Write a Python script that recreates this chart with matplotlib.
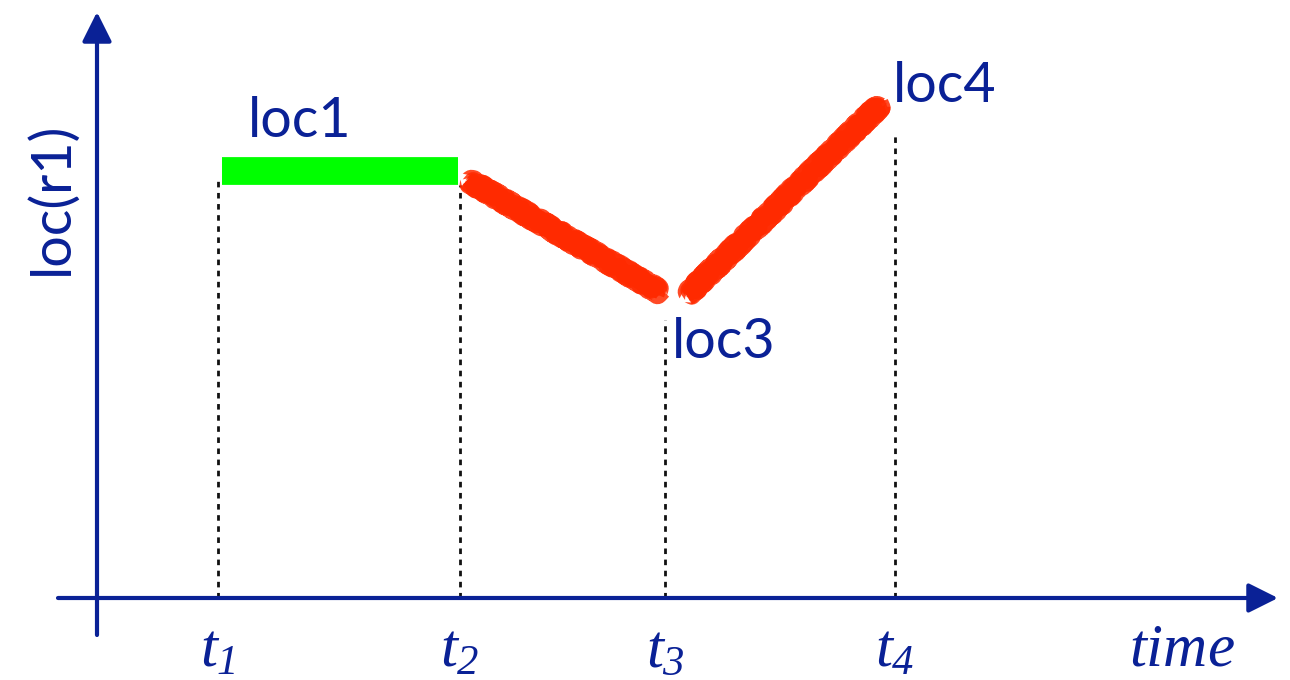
import matplotlib.pyplot as plt

navy = '#0a2196'

# time marks on the x axis and their labels
times = [1.21, 3.63, 5.68, 7.98]
time_labels = [r'$t_{1}$', r'$t_{2}$', r'$t_{3}$', r'$t_{4}$']
# top end of each dotted guide
guide_tops = [4.20, 4.13, 2.78, 4.66]

# robot r1 staying at loc1
stay_x = [1.25, 3.61]
stay_y = [4.27, 4.27]
# moving loc1 -> loc3 and loc3 -> loc4
move1_x = [3.71, 5.63]
move1_y = [4.18, 3.06]
move2_x = [5.90, 7.83]
move2_y = [3.03, 4.93]

# all math text here is italic serif, digits included
plt.rcParams['mathtext.fontset'] = 'custom'
plt.rcParams['mathtext.it'] = 'Liberation Serif:italic'
plt.rcParams['mathtext.rm'] = 'Liberation Serif:italic'

fig = plt.figure(figsize=(12.9, 6.8), dpi=100)
ax = fig.add_axes([0, 0, 1, 1])
ax.set_xlim(-0.97, 11.93)
ax.set_ylim(-0.82, 5.98)
ax.axis('off')

# axes with arrow heads
arrow = dict(arrowstyle='-|>,head_length=0.4,head_width=0.2', lw=3,
             color=navy, mutation_scale=45, shrinkA=0, shrinkB=0)
ax.annotate('', xy=(0, 5.86), xytext=(0, -0.37), arrowprops=arrow)
ax.annotate('', xy=(11.81, 0), xytext=(-0.39, 0), arrowprops=arrow)

# dotted guides
for t, top in zip(times, guide_tops):
    ax.plot([t, t], [0, top], color='#111111', lw=2.0, ls=(0, (2, 2)), zorder=1)

ax.plot(stay_x, stay_y, color='#00ff00', lw=20, solid_capstyle='butt', zorder=2)

# rough crayon-like strokes for the moves
red = '#ff2a00'
for mx, my in [(move1_x, move1_y), (move2_x, move2_y)]:
    ax.plot(mx, my, color=red, lw=11, solid_capstyle='butt', zorder=3)
    for scale, length, lw in [(4, 4, 13), (5, 3, 9), (3, 2, 15)]:
        ln, = ax.plot(mx, my, color=red, lw=lw, solid_capstyle='butt',
                      alpha=0.85, zorder=3)
        ln.set_sketch_params(scale=scale, length=length, randomness=30)

font = 'Lato'
ax.text(1.51, 4.61, 'loc1', color=navy, fontsize=40, family=font, va='baseline')
ax.text(5.75, 2.40, 'loc3', color=navy, fontsize=40, family=font, va='baseline')
ax.text(7.96, 4.96, 'loc4', color=navy, fontsize=40, family=font, va='baseline')
ax.text(-0.45, 4.0, 'loc(r1)', color=navy, fontsize=40, family=font,
        rotation=90, ha='center', va='center')

for t, lab in zip(times, time_labels):
    ax.text(t, -0.69, lab, color=navy, fontsize=44, ha='center', va='baseline')
ax.text(10.85, -0.67, r'$time$', color=navy, fontsize=44, ha='center', va='baseline')

fig.savefig('out.png', dpi=100)
